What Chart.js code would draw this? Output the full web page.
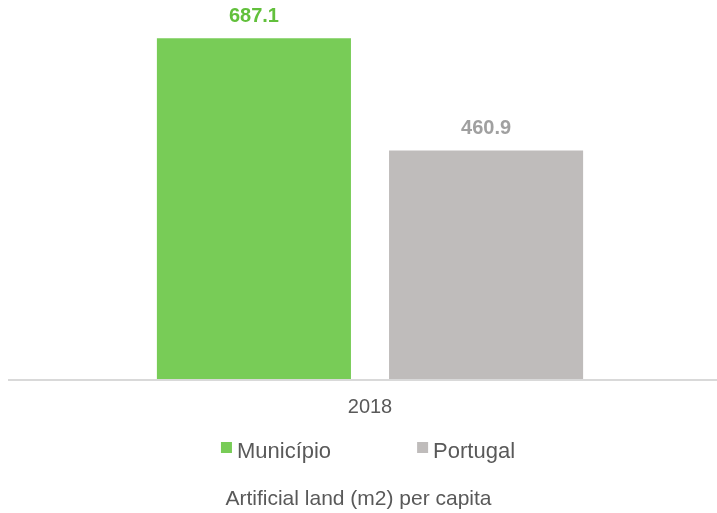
<!DOCTYPE html>
<html>
<head>
<meta charset="utf-8">
<script src="https://cdn.jsdelivr.net/npm/chart.js@4.4.0/dist/chart.umd.min.js"></script>
<style>
  body { margin: 0; background: #fff; }
  #wrap { width: 717px; height: 513px; }
</style>
</head>
<body>
<div id="wrap"><canvas id="landChart"></canvas></div>
<script>
const categories = ['2018'];
const municipioValues = [687.1];
const portugalValues = [460.9];
const seriesNames = ['Município', 'Portugal'];
const chartTitle = 'Artificial land (m2) per capita';

const fontFamily = '"Liberation Sans", Arial, sans-serif';
const greenBar = '#78cc57';
const greyBar = '#bfbcbb';
const greenLabel = '#62c03c';
const greyLabel = '#a0a0a0';
const textColor = '#595959';

// value labels above bars, the baseline line, legend and title under the axis
const extras = {
    id: 'extras',
    beforeDatasetsDraw(chart) {
        const ctx = chart.ctx;
        const area = chart.chartArea;
        const y0 = chart.scales.y.getPixelForValue(0);
        ctx.save();
        ctx.strokeStyle = '#d9d9d9';
        ctx.lineWidth = 2;
        ctx.beginPath();
        ctx.moveTo(area.left - 15, y0 + 1);
        ctx.lineTo(area.right, y0 + 1);
        ctx.stroke();
        ctx.restore();
    },
    afterDatasetsDraw(chart) {
        const ctx = chart.ctx;
        const area = chart.chartArea;
        ctx.save();
        ctx.font = 'bold 20px ' + fontFamily;
        ctx.textAlign = 'center';
        ctx.textBaseline = 'alphabetic';
        chart.data.datasets.forEach((ds, i) => {
            chart.getDatasetMeta(i).data.forEach((bar, j) => {
                ctx.fillStyle = ds.labelColor;
                ctx.fillText(ds.data[j].toFixed(1), bar.x, bar.y - 16);
            });
        });

        // legend
        ctx.font = '22px ' + fontFamily;
        const box = 11;
        const gap = 5;
        const spacing = 86;
        const widths = chart.data.datasets.map(ds => box + gap + ctx.measureText(ds.label).width);
        const total = widths.reduce((a, b) => a + b, 0) + spacing * (widths.length - 1);
        let x = (area.left + area.right) / 2 - 2 - total / 2;
        const legendBase = area.bottom + 79;
        ctx.textAlign = 'left';
        chart.data.datasets.forEach((ds, i) => {
            ctx.fillStyle = ds.backgroundColor;
            ctx.fillRect(x, legendBase - 16, box, box);
            ctx.fillStyle = textColor;
            ctx.fillText(ds.label, x + box + gap, legendBase);
            x += widths[i] + spacing;
        });

        // title, centred on the whole canvas
        ctx.font = '21px ' + fontFamily;
        ctx.textAlign = 'center';
        ctx.fillText(chartTitle, chart.width / 2, area.bottom + 126);
        ctx.restore();
    }
};

new Chart(document.getElementById('landChart'), {
    type: 'bar',
    data: {
        labels: categories,
        datasets: [{
            label: seriesNames[0],
            data: municipioValues,
            backgroundColor: greenBar,
            labelColor: greenLabel
        }, {
            label: seriesNames[1],
            data: portugalValues,
            backgroundColor: greyBar,
            labelColor: greyLabel
        }]
    },
    options: {
        responsive: true,
        maintainAspectRatio: false,
        animation: false,
        barPercentage: 0.836,
        categoryPercentage: 0.669,
        layout: { padding: { left: 23, right: 0, top: 7, bottom: 78 } },
        scales: {
            x: {
                grid: { display: false, drawTicks: false },
                border: { display: false },
                ticks: {
                    color: textColor,
                    padding: 16,
                    font: { size: 20, family: fontFamily }
                }
            },
            y: {
                display: false,
                min: 0,
                max: 750
            }
        },
        plugins: {
            tooltip: { enabled: false },
            legend: { display: false },
            title: { display: false }
        }
    },
    plugins: [extras]
});
</script>
</body>
</html>
